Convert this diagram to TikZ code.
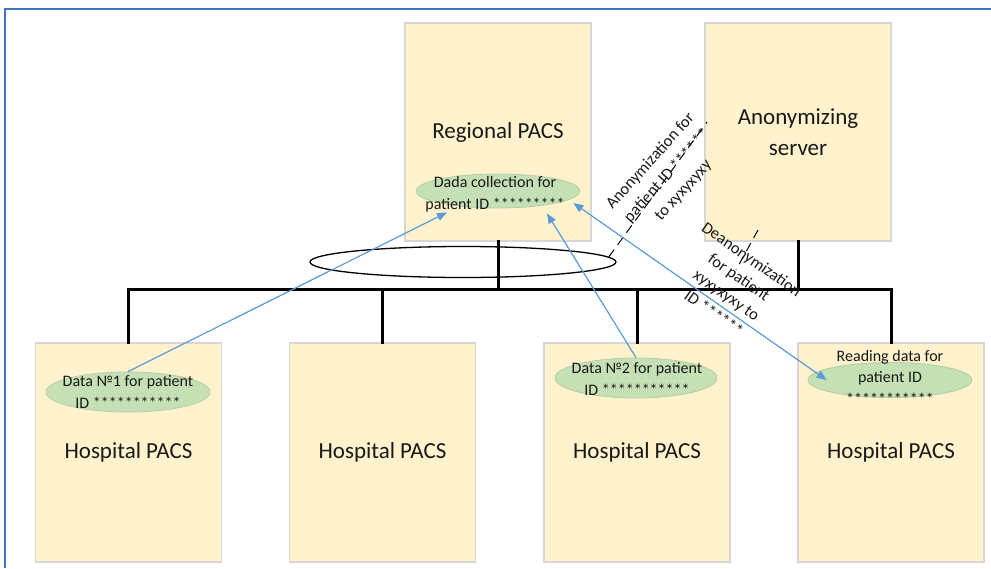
\documentclass[tikz,border=0pt]{standalone}
\usepackage{fontspec}
\setmainfont{Carlito}
\usetikzlibrary{shapes.geometric,arrows.meta}
\definecolor{boxfill}{RGB}{255,242,204}
\definecolor{boxline}{RGB}{214,214,214}
\definecolor{leaffill}{RGB}{197,224,180}
\definecolor{leafline}{RGB}{180,205,165}
\definecolor{flow}{RGB}{91,155,213}
\definecolor{framecol}{RGB}{68,114,196}
\tikzset{
  pacs/.style={draw=boxline,line width=1.2pt,fill=boxfill,minimum width=186pt,
    minimum height=218pt,inner sep=0pt,align=center,text=black!90,
    font=\fontsize{23}{31}\selectfont},
  leaf/.style={ellipse,draw=leafline,line width=0.8pt,fill=leaffill,inner sep=0pt},
  leaftext/.style={align=center,text=black!90,font=\fontsize{16}{21.5}\selectfont},
  note/.style={align=center,text=black!90,inner sep=0pt,font=\fontsize{16.5}{22}\selectfont},
  bus/.style={line width=3pt,line cap=rect},
  ring/.style={ellipse,draw,line width=1.3pt,minimum width=306pt,minimum height=31pt,inner sep=0pt},
  flowarrow/.style={draw=flow,line width=1.2pt,-{Triangle[length=10pt,width=8pt]}},
  callout/.style={line width=1pt,dash pattern=on 9pt off 6pt},
}
\begin{document}
\begin{tikzpicture}[x=1pt,y=-1pt]
\useasboundingbox (0,0) rectangle (991,568);
\draw[framecol,line width=2.2pt] (991,9) -- (5,9) -- (5,568);

% servers
\node[pacs] (regional) at (498,132) {Regional PACS};
\node[pacs] (anon) at (798,132) {Anonymizing\\server};

% hospitals
\node[pacs,minimum height=219pt] (hosp1) at (128.5,452.5) {Hospital PACS};
\node[pacs,minimum height=219pt] (hosp2) at (382.5,452.5) {Hospital PACS};
\node[pacs,minimum height=219pt] (hosp3) at (637,452.5) {Hospital PACS};
\node[pacs,minimum height=219pt] (hosp4) at (891,452.5) {Hospital PACS};

% network
\coordinate (busL) at (128.5,289);
\coordinate (busR) at (891,289);
\draw[bus] (busL) -- (busR);
\foreach \h in {hosp1,hosp2,hosp3,hosp4}
  \draw[bus] (\h.north) -- (\h.north |- busL);
\draw[bus] (regional.south) -- (regional.south |- busL);
\draw[bus] (anon.south) -- (anon.south |- busL);
\node[ring] (ring) at (463,262) {};

% data sets
\node[leaf,minimum width=164pt,minimum height=34pt] (collect) at (498,191) {};
\node[leaftext] (collecttxt) at (495,194) {Dada collection for\\patient ID *********};
\node[leaf,minimum width=164pt,minimum height=40pt] (data1) at (128,392) {};
\node[leaftext] (data1txt) at (128,392) {Data №1 for patient\\ID ***********};
\node[leaf,minimum width=162pt,minimum height=40pt] (data2) at (636,378) {};
\node[leaftext] (data2txt) at (637,379) {Data №2 for patient\\ID ***********};
\node[leaf,minimum width=164pt,minimum height=35pt] (reading) at (890,380) {};
\node[leaftext] (readingtxt) at (890,377) {Reading data for\\patient ID\\***********};

% callouts
\coordinate (anontip) at (707,122);
\draw[callout] (ring.2) -- (anontip);
\coordinate (deanA) at (758,230);
\coordinate (deanB) at (736,270);
\draw[callout] (deanA) -- (deanB);
\node[note,rotate=48] (anonnote) at (667,176) {Anonymization for\\patient ID ******\\to xyxyxyxy};
\node[note,rotate=-35] (deannote) at (733,286) {Deanonymization\\for patient\\xyxyxyxy to\\ID ******};

% data flows
\draw[flowarrow] (data1.north) -- ([shift={(-51,4)}]collect.south);
\draw[flowarrow] (data2.north) -- ([shift={(49,5)}]collect.south);
\draw[flowarrow,{Triangle[length=10pt,width=8pt]}-{Triangle[length=10pt,width=8pt]}]
  ([shift={(-7,12)}]collect.east) -- ([shift={(19,0)}]reading.west);
\end{tikzpicture}
\end{document}
